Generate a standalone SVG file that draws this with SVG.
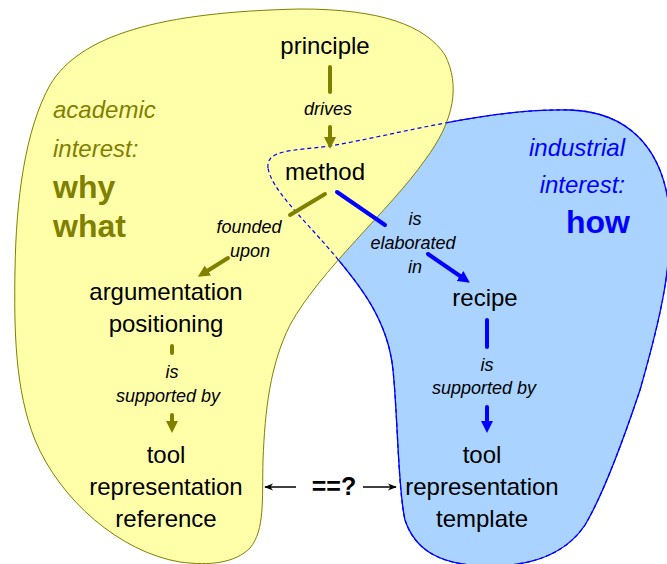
<svg xmlns="http://www.w3.org/2000/svg" width="667" height="564" viewBox="0 0 667 564">
<style>
.t{font-family:"Liberation Sans",Arial,sans-serif;font-size:24px;fill:#000;text-anchor:middle}
.l{font-family:"Liberation Sans",Arial,sans-serif;font-size:18px;font-style:italic;fill:#000;text-anchor:middle}
.ol{stroke:#808000;stroke-width:4;stroke-linecap:round;fill:none}
.bl{stroke:#0000ff;stroke-width:4;stroke-linecap:round;fill:none}
.ka{stroke:#000;stroke-width:1.5;fill:none}
</style>
<defs>
<marker id="ho" viewBox="0 0 10 10" refX="0" refY="5" markerWidth="3" markerHeight="3.2" orient="auto" markerUnits="strokeWidth"><path d="M0,0 L10,5 L0,10 z" fill="#808000"/></marker>
<marker id="hb" viewBox="0 0 10 10" refX="0" refY="5" markerWidth="3" markerHeight="3.2" orient="auto" markerUnits="strokeWidth"><path d="M0,0 L10,5 L0,10 z" fill="#0000ff"/></marker>
<marker id="hk" viewBox="0 0 10 10" refX="9" refY="5" markerWidth="7" markerHeight="6" orient="auto" markerUnits="strokeWidth"><path d="M0,1 L10,5 L0,9 L3,5 z" fill="#000"/></marker>
</defs>
<g id="regions">
<path id="industrial-region" d="M 268 168 C 266 150, 290 151, 330 146 C 400 134, 490 108, 570 110 C 630 112, 660 150, 668 200 C 675 260, 660 320, 640 390 C 620 450, 600 500, 585 525 C 565 555, 530 566, 490 566 C 440 566, 415 550, 405 520 C 398 490, 398 420, 393 370 C 388 320, 360 285, 330 250 C 300 215, 272 190, 268 168 Z" fill="#aad4ff" stroke="#0000ff" stroke-width="1.3"/>
<path id="academic-region" d="M 300 9 C 380 9, 425 25, 445 55 C 460 85, 455 120, 425 160 C 390 210, 320 270, 290 325 C 270 365, 265 410, 263 460 C 262 500, 265 530, 250 548 C 235 563, 210 566, 180 562 C 120 552, 60 500, 35 440 C 15 390, 14 330, 15 270 C 16 200, 25 130, 50 85 C 80 35, 160 12, 300 9 Z" fill="#ffffaa" stroke="#808000" stroke-width="1"/>
<path id="industrial-outline" d="M 268 168 C 266 150, 290 151, 330 146 C 400 134, 490 108, 570 110 C 630 112, 660 150, 668 200 C 675 260, 660 320, 640 390 C 620 450, 600 500, 585 525 C 565 555, 530 566, 490 566 C 440 566, 415 550, 405 520 C 398 490, 398 420, 393 370 C 388 320, 360 285, 330 250 C 300 215, 272 190, 268 168 Z" fill="none" stroke="#0000ff" stroke-width="1.2" stroke-dasharray="4,3"/>
</g>
<g id="region-labels">
<text x="53" y="118" font-family="Liberation Sans, Arial, sans-serif" font-size="24" font-style="italic" fill="#808000">academic</text>
<text x="53" y="157" font-family="Liberation Sans, Arial, sans-serif" font-size="24" font-style="italic" fill="#808000">interest:</text>
<text x="53" y="198" font-family="Liberation Sans, Arial, sans-serif" font-size="32" font-weight="bold" fill="#808000">why</text>
<text x="53" y="237" font-family="Liberation Sans, Arial, sans-serif" font-size="32" font-weight="bold" fill="#808000">what</text>
<text x="625" y="156" text-anchor="end" font-family="Liberation Sans, Arial, sans-serif" font-size="24" font-style="italic" fill="#0000ff">industrial</text>
<text x="625" y="193" text-anchor="end" font-family="Liberation Sans, Arial, sans-serif" font-size="24" font-style="italic" fill="#0000ff">interest:</text>
<text x="630" y="233" text-anchor="end" font-family="Liberation Sans, Arial, sans-serif" font-size="32" font-weight="bold" fill="#0000ff">how</text>
</g>
<g id="connectors">
<line class="ol" x1="330" y1="67" x2="330" y2="92"/>
<line class="ol" x1="330" y1="127" x2="330" y2="137" marker-end="url(#ho)"/>
<text class="l" x="328" y="115">drives</text>
<line class="ol" x1="325" y1="194" x2="290" y2="215"/>
<line class="ol" x1="228" y1="258" x2="208" y2="270.5" marker-end="url(#ho)"/>
<text class="l" x="249" y="233">founded</text>
<text class="l" x="250" y="257">upon</text>
<line class="bl" x1="337" y1="192" x2="385" y2="225"/>
<line class="bl" x1="428" y1="254" x2="460" y2="276" marker-end="url(#hb)"/>
<text class="l" x="415" y="225">is</text>
<text class="l" x="413" y="249">elaborated</text>
<text class="l" x="415" y="273">in</text>
<line class="bl" x1="487" y1="320" x2="487" y2="347"/>
<line class="bl" x1="487" y1="407" x2="487" y2="421" marker-end="url(#hb)"/>
<text class="l" x="487" y="371">is</text>
<text class="l" x="484" y="394">supported by</text>
<line class="ol" x1="172" y1="346" x2="172" y2="353"/>
<line class="ol" x1="172" y1="415" x2="172" y2="421" marker-end="url(#ho)"/>
<text class="l" x="172" y="378">is</text>
<text class="l" x="168" y="402">supported by</text>
<line class="ka" x1="296" y1="487" x2="265" y2="487" marker-end="url(#hk)"/>
<line class="ka" x1="363" y1="487" x2="396" y2="487" marker-end="url(#hk)"/>
<text x="334" y="495" text-anchor="middle" font-family="Liberation Sans, Arial, sans-serif" font-size="25" font-weight="bold" fill="#000">==?</text>
</g>
<g id="principle"><text class="t" x="325" y="54">principle</text></g>
<g id="method"><text class="t" x="325" y="180">method</text></g>
<g id="argumentation"><text class="t" x="166" y="300">argumentation</text><text class="t" x="166" y="332">positioning</text></g>
<g id="recipe"><text class="t" x="485" y="306">recipe</text></g>
<g id="tool-reference"><text class="t" x="166" y="463">tool</text><text class="t" x="166" y="495">representation</text><text class="t" x="166" y="527">reference</text></g>
<g id="tool-template"><text class="t" x="482" y="463">tool</text><text class="t" x="482" y="495">representation</text><text class="t" x="482" y="527">template</text></g>
</svg>
